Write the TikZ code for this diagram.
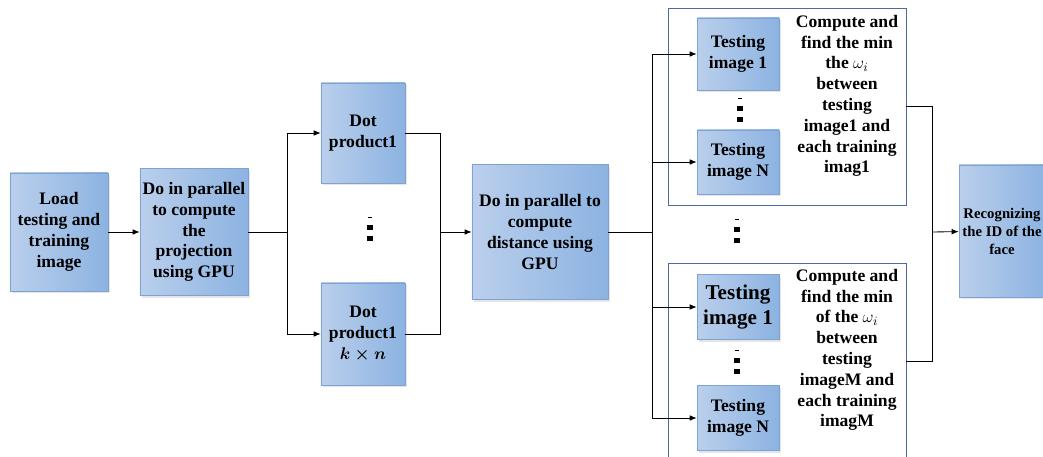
\documentclass[tikz,border=0pt]{standalone}
\usepackage{amsmath}
\usepackage{fontspec}
\setmainfont{Liberation Serif}
\usetikzlibrary{shadows,arrows.meta}
\definecolor{boxleft}{RGB}{186,207,236}
\definecolor{boxright}{RGB}{140,179,225}
\definecolor{boxline}{RGB}{128,162,210}
\definecolor{frameline}{RGB}{78,106,165}
\tikzset{
  stagebox/.style={draw=boxline, left color=boxleft, right color=boxright,
    drop shadow={opacity=0.2, shadow xshift=1.5pt, shadow yshift=-1.5pt},
    align=center, inner sep=0pt, font=\fontsize{12.5}{14.8}\selectfont\bfseries},
  groupframe/.style={draw=frameline, fill=white, inner sep=0pt},
  frametext/.style={align=center, inner sep=0pt, font=\fontsize{12.5}{14.8}\selectfont\bfseries},
  link/.style={-{Latex[length=5pt,width=4pt]}},
  wire/.style={black, line width=0.6pt},
  dotcol/.pic={
    \fill (-2,-12) rectangle (2,-11);
    \fill (-3,-4) rectangle (3,1);
    \fill (-3,7) rectangle (3,12);
  }
}
\begin{document}
\begin{tikzpicture}[x=0.025cm, y=-0.025cm]
	\clip (0,0) rectangle (1043,457);
	\node[stagebox, minimum width=2.45cm, minimum height=2.95cm] (load) at (59,232) {Load\\testing and\\training\\image};
	\node[stagebox, minimum width=2.7cm, minimum height=3.175cm] (proj) at (194,232) {Do in parallel\\to compute\\the\\projection\\using GPU};
	\node[stagebox, minimum width=2.1cm, minimum height=2.5cm] (dotA) at (363,133) {Dot\\product1};
	\node[stagebox, minimum width=2.1cm, minimum height=2.55cm] (dotB) at (363,334) {Dot\\product1\\$\boldsymbol{k\times n}$};
	\pic at (370,229) {dotcol};
	\node[stagebox, minimum width=3.4cm, minimum height=3.375cm] (dist) at (540,232) {Do in parallel to\\compute\\distance using\\GPU};
	\node[groupframe, minimum width=5.95cm, minimum height=4.925cm] (grpA) at (787,106.5) {};
	\node[groupframe, minimum width=5.95cm, minimum height=4.9cm] (grpB) at (787,361) {};
	\node[stagebox, minimum width=2.05cm, minimum height=1.8cm] (tstA1) at (738,54) {Testing\\image 1};
	\node[stagebox, minimum width=2.05cm, minimum height=1.6cm] (tstAN) at (738,162) {Testing\\image N};
	\pic at (740,110) {dotcol};
	\node[frametext] (txtA) at (847,96) {Compute and\\find the min\\the {\mdseries$\omega_i$}\\between\\testing\\image1 and\\each training\\imag1};
	\pic at (737,231) {dotcol};
	\node[stagebox, minimum width=2.05cm, minimum height=1.625cm, font=\fontsize{15}{18}\selectfont\bfseries] (tstB1) at (738,307) {Testing\\image 1};
	\node[stagebox, minimum width=2.05cm, minimum height=1.625cm] (tstBN) at (738,418) {Testing\\image N};
	\pic at (737,362) {dotcol};
	\node[frametext] (txtB) at (847,350) {Compute and\\find the min\\of the {\mdseries$\omega_i$}\\between\\testing\\imageM and\\each training\\imagM};
	\node[stagebox, minimum width=2.15cm, minimum height=3.3cm, font=\fontsize{10.5}{12.8}\selectfont\bfseries] (recog) at (1002,231) {Recognizing\\the ID of the\\face};
	\coordinate (splitA) at (287,232);
	\coordinate (joinA) at (440,232);
	\coordinate (splitB) at (652,232);
	\coordinate (joinB) at (932,232);
	\draw[wire, link] (load) -- (proj);
	\draw[wire] (proj.east) -- (splitA);
	\draw[wire, link] (splitA) |- (dotA.west);
	\draw[wire, link] (splitA) |- (dotB.west);
	\draw[wire] (dotA.east) -| (joinA);
	\draw[wire] (dotB.east) -| (joinA);
	\draw[wire, link] (joinA) -- (dist);
	\draw[wire] (dist.east) -- (splitB);
	\draw[wire, link] (splitB) |- (tstA1.west);
	\draw[wire, link] (splitB) |- (tstAN.west);
	\draw[wire, link] (splitB) |- (tstB1.west);
	\draw[wire, link] (splitB) |- (tstBN.west);
	\draw[wire] (grpA.east) -| (joinB);
	\draw[wire] (grpB.east) -| (joinB);
	\draw[wire, link] (joinB) -- (recog);
\end{tikzpicture}
\end{document}
